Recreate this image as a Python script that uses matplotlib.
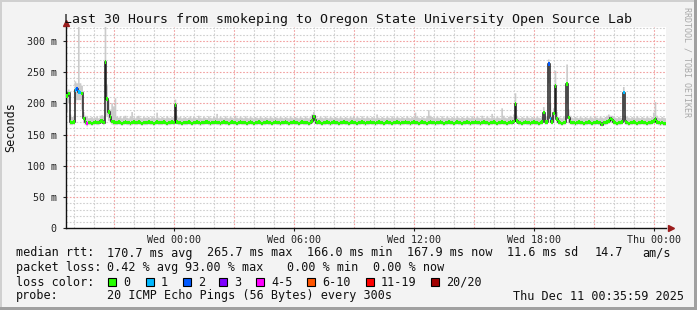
import numpy as np
import matplotlib
matplotlib.use('Agg')
import matplotlib.pyplot as plt
from matplotlib.patches import Rectangle

plt.rcParams['font.family'] = 'DejaVu Sans Mono'

W, H = 697, 310

# 5 minute samples over 30 hours, time in hours relative to Wed 00:00
t_start = -5.4
step_h = 5 / 60

median_ms = [
    212, 216, 170, 169, 170, 221, 223, 218, 217, 216, 176, 170, 168, 169, 169, 168, 169, 170, 169, 169, 172, 172, 169, 265.7,
    207, 186, 178, 171, 170, 169, 169, 170, 169, 168, 169, 170, 169, 169, 168, 169, 170, 169, 169, 170, 169, 168, 169, 169,
    169, 170, 169, 169, 168, 169, 170, 169, 169, 169, 170, 169, 168, 169, 169, 170, 169, 197, 170, 169, 169, 168, 169, 169,
    169, 170, 169, 168, 169, 169, 170, 169, 168, 169, 169, 170, 170, 169, 168, 169, 169, 170, 169, 169, 168, 169, 170, 169,
    169, 168, 169, 170, 169, 169, 168, 169, 170, 169, 169, 169, 168, 169, 170, 169, 168, 169, 169, 170, 169, 168, 169, 169,
    170, 169, 169, 168, 169, 170, 169, 169, 168, 169, 169, 170, 169, 168, 169, 169, 170, 169, 169, 168, 169, 170, 169, 169,
    169, 168, 169, 172, 179, 173, 169, 170, 169, 168, 169, 169, 170, 169, 168, 169, 170, 169, 169, 168, 169, 169, 170, 169,
    169, 168, 169, 170, 169, 169, 168, 169, 169, 170, 169, 168, 169, 169, 170, 169, 169, 168, 169, 170, 169, 169, 168, 169,
    170, 169, 169, 168, 169, 169, 170, 169, 168, 169, 169, 170, 169, 169, 168, 169, 170, 169, 169, 168, 169, 170, 169, 169,
    168, 169, 170, 169, 169, 168, 169, 169, 170, 169, 168, 169, 169, 170, 169, 169, 168, 169, 170, 169, 169, 168, 169, 169,
    170, 169, 168, 169, 169, 170, 169, 169, 168, 169, 170, 169, 169, 168, 169, 169, 170, 169, 168, 169, 169, 170, 169, 169,
    168, 169, 170, 169, 171, 199, 172, 169, 169, 168, 169, 170, 169, 169, 168, 169, 170, 169, 169, 168, 169, 170, 185, 170,
    170, 263, 176, 170, 184, 228, 175, 170, 169, 168, 169, 170, 231, 177, 170, 169, 169, 168, 169, 170, 169, 169, 168, 169,
    169, 170, 169, 168, 169, 169, 170, 169, 169, 166, 169, 169, 170, 172, 176, 174, 170, 169, 168, 169, 169, 170, 217, 171,
    169, 168, 169, 169, 170, 169, 168, 169, 169, 170, 169, 169, 168, 169, 169, 170, 172, 175, 170, 169, 168, 169, 168, 167.9,
]

smoke_hi = [
    218, 222, 182, 178, 180, 235, 232, 322, 232, 228, 186, 180, 178, 176, 177, 178, 176, 177, 179, 176, 180, 181, 178, 322,
    230, 205, 190, 200, 195, 208, 178, 177, 179, 176, 178, 180, 177, 176, 178, 186, 177, 176, 178, 180, 177, 176, 178, 177,
    177, 178, 176, 179, 177, 176, 185, 177, 176, 178, 177, 176, 179, 177, 176, 178, 177, 206, 180, 177, 178, 176, 177, 178,
    176, 177, 179, 176, 178, 177, 176, 180, 177, 176, 178, 177, 176, 179, 177, 176, 178, 177, 183, 176, 178, 177, 176, 179,
    177, 176, 178, 177, 176, 180, 177, 176, 178, 177, 176, 179, 177, 176, 178, 177, 176, 178, 177, 176, 179, 177, 176, 178,
    177, 176, 179, 177, 176, 178, 177, 176, 178, 177, 176, 178, 177, 176, 179, 177, 176, 178, 177, 176, 178, 177, 176, 179,
    177, 176, 178, 182, 186, 180, 177, 176, 178, 177, 176, 179, 177, 176, 178, 177, 176, 178, 177, 176, 178, 177, 176, 178,
    177, 176, 178, 177, 180, 176, 178, 177, 176, 179, 177, 176, 178, 177, 176, 178, 177, 176, 182, 177, 176, 178, 177, 176,
    178, 177, 176, 179, 177, 176, 178, 177, 176, 178, 177, 176, 179, 177, 176, 178, 177, 185, 178, 177, 176, 178, 177, 176,
    179, 189, 180, 178, 177, 176, 178, 177, 176, 179, 177, 176, 178, 177, 176, 178, 177, 176, 179, 177, 176, 178, 177, 176,
    178, 177, 176, 179, 177, 176, 178, 177, 176, 180, 177, 176, 178, 177, 176, 183, 177, 176, 178, 177, 176, 192, 180, 177,
    176, 178, 180, 178, 182, 216, 180, 177, 176, 178, 177, 176, 179, 177, 176, 178, 177, 176, 178, 177, 176, 178, 194, 180,
    178, 270, 200, 180, 192, 252, 186, 178, 177, 176, 178, 177, 262, 190, 180, 177, 176, 178, 177, 176, 178, 177, 176, 178,
    177, 176, 178, 177, 176, 179, 177, 176, 178, 177, 176, 178, 180, 182, 180, 180, 178, 177, 176, 178, 177, 176, 226, 180,
    178, 177, 176, 178, 177, 176, 179, 177, 176, 178, 177, 176, 178, 177, 176, 178, 185, 202, 180, 177, 176, 178, 177, 176,
]

smoke_lo = [
    185, 200, 165, 165, 166, 200, 205, 205, 205, 190, 168, 165, 163, 165, 165, 164, 165, 166, 165, 165, 167, 167, 165, 215,
    180, 172, 170, 166, 165, 165, 165, 166, 165, 164, 165, 166, 165, 165, 164, 165, 166, 165, 165, 166, 165, 164, 165, 165,
    165, 166, 165, 165, 164, 165, 166, 165, 165, 165, 166, 165, 164, 165, 165, 166, 165, 176, 166, 165, 165, 164, 165, 165,
    165, 166, 165, 164, 165, 165, 166, 165, 164, 165, 165, 166, 166, 165, 164, 165, 165, 166, 165, 165, 164, 165, 166, 165,
    165, 164, 165, 166, 165, 165, 164, 165, 166, 165, 165, 165, 164, 165, 166, 165, 164, 165, 165, 166, 165, 164, 165, 165,
    166, 165, 165, 164, 165, 166, 165, 165, 164, 165, 165, 166, 165, 164, 165, 165, 166, 165, 165, 164, 165, 166, 165, 165,
    165, 164, 165, 167, 170, 168, 165, 166, 165, 164, 165, 165, 166, 165, 164, 165, 166, 165, 165, 164, 165, 165, 166, 165,
    165, 164, 165, 166, 165, 165, 164, 165, 165, 166, 165, 164, 165, 165, 166, 165, 165, 164, 165, 166, 165, 165, 164, 165,
    166, 165, 165, 164, 165, 165, 166, 165, 164, 165, 165, 166, 165, 165, 164, 165, 166, 165, 165, 164, 165, 166, 165, 165,
    164, 165, 166, 165, 165, 164, 165, 165, 166, 165, 164, 165, 165, 166, 165, 165, 164, 165, 166, 165, 165, 164, 165, 165,
    166, 165, 164, 165, 165, 166, 165, 165, 164, 165, 166, 165, 165, 164, 165, 165, 166, 165, 164, 165, 165, 166, 165, 165,
    164, 165, 166, 165, 167, 176, 167, 165, 165, 164, 165, 166, 165, 165, 164, 165, 166, 165, 165, 164, 165, 166, 173, 166,
    166, 232, 168, 166, 172, 200, 168, 166, 165, 164, 165, 166, 200, 168, 166, 165, 165, 164, 165, 166, 165, 165, 164, 165,
    165, 166, 165, 164, 165, 165, 166, 165, 165, 163, 165, 165, 166, 167, 170, 168, 166, 165, 164, 165, 165, 166, 190, 166,
    165, 164, 165, 165, 166, 165, 164, 165, 165, 166, 165, 165, 164, 165, 165, 166, 167, 168, 166, 165, 164, 165, 164, 164,
]

# samples with lost pings (index, pings lost out of 20)
loss_idx = [5, 6, 7, 8, 12, 289, 290, 334]
loss_pings = [1, 2, 1, 1, 4, 2, 1, 1]

loss_labels = ['0', '1', '2', '3', '4-5', '6-10', '11-19', '20/20']
loss_upper = [0, 1, 2, 3, 5, 10, 19, 20]
loss_colors = ['#26ff00', '#00b8ff', '#0059ff', '#7e00ff', '#ff00ff', '#ff5500', '#ff0000', '#a00000']

hour_ticks = [0, 6, 12, 18, 24]
hour_labels = ['Wed 00:00', 'Wed 06:00', 'Wed 12:00', 'Wed 18:00', 'Thu 00:00']
ms_ticks = [0, 50, 100, 150, 200, 250, 300]
ms_labels = ['0', '50 m', '100 m', '150 m', '200 m', '250 m', '300 m']

med = np.array(median_ms, dtype=float)
n = len(med)
edges = t_start + np.arange(n + 1) * step_h
loss = np.zeros(n, dtype=int)
loss[loss_idx] = loss_pings
loss_bin = np.searchsorted(loss_upper, loss)

fig = plt.figure(figsize=(W / 100, H / 100), dpi=100, facecolor='#f3f3f3')
ax = fig.add_axes([66.3 / W, 1 - 228.3 / H, 600 / W, 201.3 / H])
ax.set_facecolor('white')

# grid
for h in range(-5, 25):
    c = '#f2a0a0' if h % 3 == 0 else '#cfcfcf'
    ax.axvline(h, color=c, lw=0.8, ls=(0, (1.5, 1.5)), zorder=0.5)
for v in range(10, 330, 10):
    c = '#f2a0a0' if v % 50 == 0 else '#cfcfcf'
    ax.axhline(v, color=c, lw=0.8, ls=(0, (1.5, 1.5)), zorder=0.5)

# smoke, median and loss colour band
ax.stairs(smoke_hi, edges, baseline=smoke_lo, fill=True, color='#cbcbcb', lw=0, zorder=1)
ax.stairs(med, edges, baseline=None, color='#202020', lw=1.1, zorder=2)
band = 2.8
for k, col in enumerate(loss_colors):
    sel = loss_bin == k
    if sel.any():
        ax.bar(edges[:-1][sel], 2 * band, bottom=med[sel] - band, width=step_h,
               align='edge', color=col, lw=0, zorder=3)

ax.set_xlim(t_start, t_start + 30)
ax.set_ylim(0, 322)
ax.set_xticks(hour_ticks)
ax.set_xticklabels(hour_labels)
ax.set_yticks(ms_ticks)
ax.set_yticklabels(ms_labels)
ax.tick_params(labelsize=7.2, length=2, width=0.8, colors='#222222')
ax.tick_params(axis='y', pad=5)
ax.tick_params(axis='x', pad=3)
for s in ['top', 'right']:
    ax.spines[s].set_visible(False)
for s in ['left', 'bottom']:
    ax.spines[s].set_color('#111111')
    ax.spines[s].set_linewidth(1)
ax.plot([1.008], [0], marker='>', ms=4, color='#9b1c1c', transform=ax.transAxes, clip_on=False)
ax.plot([0], [1.02], marker='^', ms=4, color='#9b1c1c', transform=ax.transAxes, clip_on=False)


def ftext(x, y, s, **kw):
    fig.text(x / W, 1 - y / H, s, va='center', **kw)


ftext(348.5, 19, 'Last 30 Hours from smokeping to Oregon State University Open Source Lab',
      ha='center', fontsize=9.5, color='#111111')
ftext(11, 127, 'Seconds', ha='center', rotation=90, fontsize=8.5, color='#111111')
ftext(687, 62, 'RRDTOOL / TOBI OETIKER', ha='center', rotation=270, fontsize=6, color='#a8a8a8')

lg = dict(fontsize=8.5, ha='left', color='#111111')
ftext(16, 253, 'median rtt:', **lg)
for x, s in [(107, '170.7 ms avg'), (207, '265.7 ms max'), (307, '166.0 ms min'),
             (407, '167.9 ms now'), (507, '11.6 ms sd'), (595, '14.7'), (642, 'am/s')]:
    ftext(x, 253, s, **lg)
ftext(16, 267.5, 'packet loss:', **lg)
for x, s in [(107, '0.42 % avg'), (185, '93.00 % max'), (287, '0.00 % min'), (373, '0.00 % now')]:
    ftext(x, 267.5, s, **lg)
ftext(16, 282, 'loss color:', **lg)
box_x = [108, 146, 183, 219, 256, 307, 366, 431]
for bx, lab, col in zip(box_x, loss_labels, loss_colors):
    fig.patches.append(Rectangle((bx / W, 1 - 286 / H), 8 / W, 8 / H, facecolor=col,
                                 edgecolor='black', lw=0.8, transform=fig.transFigure))
    ftext(bx + 15, 282, lab, **lg)
ftext(16, 296, 'probe:', **lg)
ftext(107, 296, '20 ICMP Echo Pings (56 Bytes) every 300s', **lg)
ftext(513, 296, 'Thu Dec 11 00:35:59 2025', **lg)

# frame
for xy, w, h, c in [((0, 1 - 2 / H), 1, 2 / H, '#d0d0d0'), ((0, 0), 2 / W, 1, '#d0d0d0'),
                    ((1 - 3 / W, 0), 3 / W, 1, '#a0a0a0'), ((0, 0), 1, 3 / H, '#a0a0a0')]:
    fig.patches.append(Rectangle(xy, w, h, facecolor=c, lw=0, transform=fig.transFigure))

fig.savefig('out.png', dpi=100, facecolor=fig.get_facecolor())
